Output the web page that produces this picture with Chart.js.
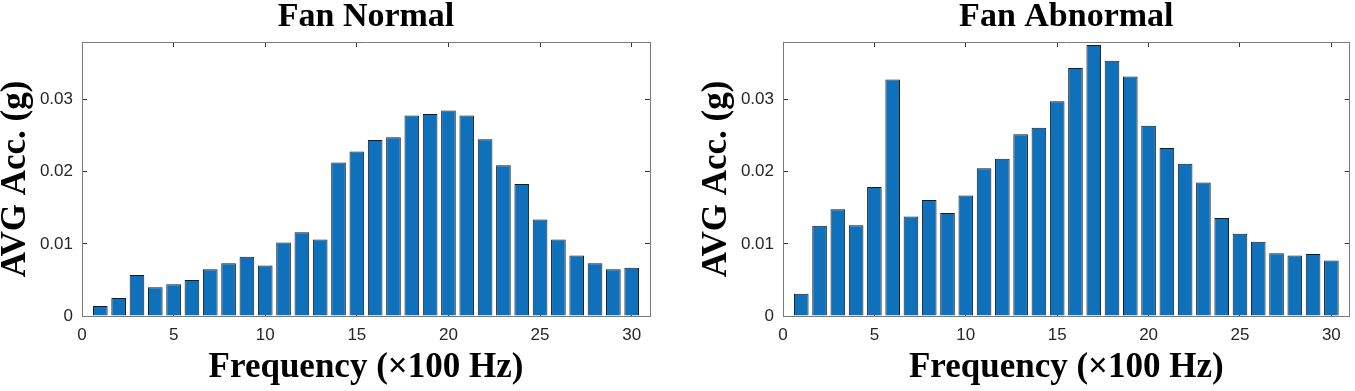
<!DOCTYPE html>
<html>
<head>
<meta charset="utf-8">
<script src="https://cdn.jsdelivr.net/npm/chart.js@4.4.1/dist/chart.umd.min.js"></script>
<style>
  body { margin: 0; background: #fff; }
  .panel { position: absolute; top: 0; }
</style>
</head>
<body>
<div class="panel" style="left:0"><canvas id="normal-chart" width="700" height="391"></canvas></div>
<div class="panel" style="left:701px"><canvas id="abnormal-chart" width="654" height="391"></canvas></div>
<script>
// Frequency bins (x 100 Hz)
const frequencies = [1, 2, 3, 4, 5, 6, 7, 8, 9, 10, 11, 12, 13, 14, 15,
  16, 17, 18, 19, 20, 21, 22, 23, 24, 25, 26, 27, 28, 29, 30];

// Average acceleration (g)
const normalAcc = [0.0014, 0.0025, 0.0057, 0.0040, 0.0044, 0.0050, 0.0065, 0.0073, 0.0082, 0.0070,
  0.0102, 0.0116, 0.0106, 0.0213, 0.0228, 0.0244, 0.0248, 0.0278, 0.0280, 0.0285,
  0.0278, 0.0245, 0.0209, 0.0183, 0.0134, 0.0106, 0.0084, 0.0073, 0.0065, 0.0067];
const abnormalAcc = [0.0031, 0.0125, 0.0148, 0.0126, 0.0179, 0.0328, 0.0138, 0.0161, 0.0143, 0.0167,
  0.0205, 0.0218, 0.0252, 0.0261, 0.0298, 0.0344, 0.0376, 0.0354, 0.0332, 0.0264,
  0.0233, 0.0211, 0.0185, 0.0136, 0.0114, 0.0103, 0.0087, 0.0084, 0.0086, 0.0077];

const xTicks = [0, 5, 10, 15, 20, 25, 30];
const yTicks = [0, 0.01, 0.02, 0.03];
const yTickLabels = ["0", "0.01", "0.02", "0.03"];
const X_MAX = 31;
const Y_MAX = 0.038;

const SERIF = "'Liberation Serif', 'Times New Roman', serif";
const SANS = "'Liberation Sans', Arial, sans-serif";
const BORDER = { display: true, color: "#7a7a7a", width: 1 };

// ticks point inward like a boxed MATLAB axis (negative tick length)
function inwardGrid() {
  return { drawOnChartArea: false, drawTicks: true, tickLength: -5, tickColor: "#333", offset: false };
}

function setTicks(values) {
  return scale => { scale.ticks = values.map(v => ({ value: v })); };
}

function plotSpectrum(canvasId, title, values, padRight) {
  const ctx = document.getElementById(canvasId).getContext("2d");
  const points = frequencies.map((f, i) => ({ x: f, y: values[i] }));

  return new Chart(ctx, {
    type: "bar",
    data: {
      datasets: [{
        data: points,
        backgroundColor: "#0f70bb",
        borderColor: "#1a1a1a",
        borderWidth: 1,
        barPercentage: 0.8,
        categoryPercentage: 1,
      }],
    },
    options: {
      responsive: false,
      animation: false,
      devicePixelRatio: 1,
      layout: { padding: { left: 0, right: padRight, top: 0, bottom: 0 } },
      plugins: {
        legend: { display: false },
        tooltip: { enabled: false },
        title: {
          display: true,
          text: title,
          fullSize: false,
          color: "#000",
          font: { family: SERIF, size: 34, weight: "bold", lineHeight: 1 },
          padding: { top: 0, bottom: 8 },
        },
      },
      scales: {
        x: {
          type: "linear",
          position: "bottom",
          min: 0,
          max: X_MAX,
          offset: false,
          afterBuildTicks: setTicks(xTicks),
          afterFit: s => { s.height = 75; },
          grid: inwardGrid(),
          border: BORDER,
          ticks: { color: "#262626", padding: 14, maxRotation: 0, font: { family: SANS, size: 17 } },
          title: {
            display: true,
            text: "Frequency (×100 Hz)",
            color: "#000",
            font: { family: SERIF, size: 35, weight: "bold", lineHeight: 1.2 },
            padding: { top: 0, bottom: 2 },
          },
        },
        xTop: {
          type: "linear",
          position: "top",
          min: 0,
          max: X_MAX,
          offset: false,
          afterBuildTicks: setTicks(xTicks),
          afterFit: s => { s.height = 0; },
          grid: inwardGrid(),
          border: BORDER,
          ticks: { display: false },
        },
        y: {
          type: "linear",
          position: "left",
          min: 0,
          max: Y_MAX,
          afterBuildTicks: setTicks(yTicks),
          afterFit: s => { s.width = 82; },
          grid: inwardGrid(),
          border: BORDER,
          ticks: {
            color: "#262626",
            padding: 14,
            font: { family: SANS, size: 17 },
            callback: (v, i) => yTickLabels[i],
          },
          title: {
            display: true,
            text: "AVG Acc. (g)",
            color: "#000",
            font: { family: SERIF, size: 35, weight: "bold", lineHeight: 0.9 },
            padding: { top: 0, bottom: 0 },
          },
        },
        yRight: {
          type: "linear",
          position: "right",
          min: 0,
          max: Y_MAX,
          afterBuildTicks: setTicks(yTicks),
          afterFit: s => { s.width = 0; },
          grid: inwardGrid(),
          border: BORDER,
          ticks: { display: false },
        },
      },
    },
  });
}

plotSpectrum("normal-chart", "Fan Normal", normalAcc, 50);
plotSpectrum("abnormal-chart", "Fan Abnormal", abnormalAcc, 5);
</script>
</body>
</html>
